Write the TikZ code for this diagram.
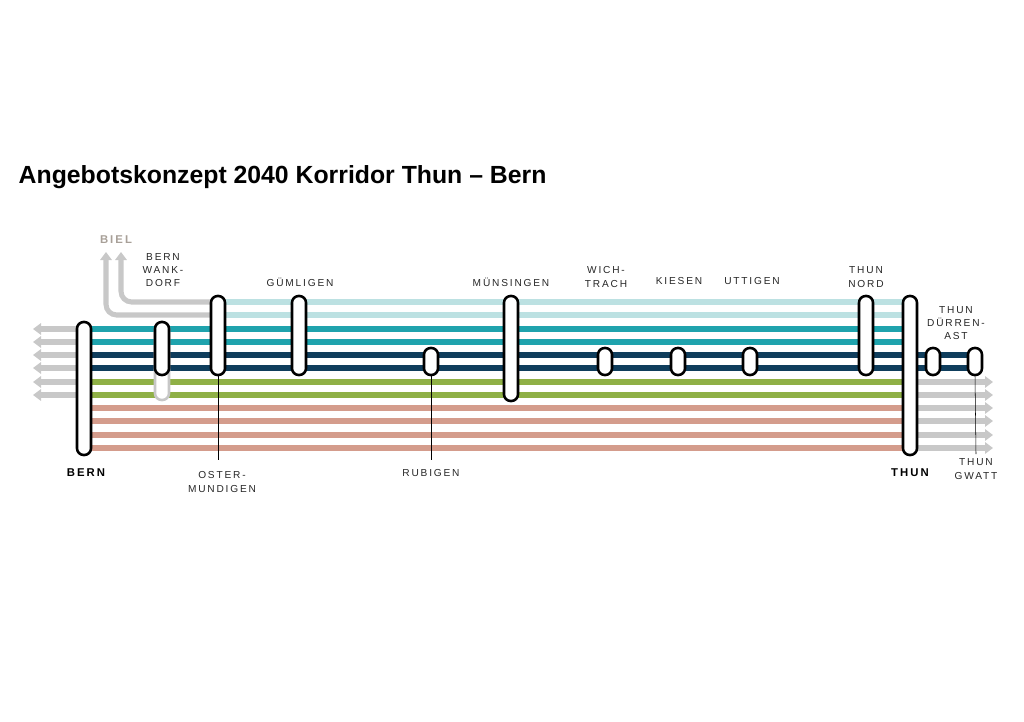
\documentclass[tikz,border=0pt]{standalone}
\usepackage{fontspec}
\setmainfont{Liberation Sans}
\newfontfamily\stfont[LetterSpace=18]{Liberation Sans}
\usetikzlibrary{arrows.meta}
\definecolor{lcyan}{HTML}{BCE1E2}
\definecolor{teal}{HTML}{1FA3AD}
\definecolor{navy}{HTML}{0F3D5C}
\definecolor{lgreen}{HTML}{8FB046}
\definecolor{salmon}{HTML}{D49C8C}
\definecolor{lgrey}{HTML}{C8C8C8}
\definecolor{biel}{HTML}{A8A098}
\tikzset{
  track/.style={line width=4.2pt},
  greyarr/.style={lgrey,line width=3.8pt,-{Triangle[length=6pt,width=8.5pt]}},
  pill/.style={draw,fill=white,line width=1.9pt,rounded corners=5pt,
    minimum width=10.5pt,minimum height=#1*0.75pt,inner sep=0pt},
  lbl/.style={font=\stfont\fontsize{7.6}{10}\selectfont,align=center,text=black!85},
  bold/.style={font=\stfont\bfseries\fontsize{8.5}{10}\selectfont}
}
\begin{document}
\begin{tikzpicture}[x=0.75pt,y=-0.75pt]
\useasboundingbox (0,0) rectangle (1024,721);
\node[anchor=west,font=\bfseries\fontsize{18.6}{20}\selectfont] (title) at (14,177) {Angebotskonzept 2040 Korridor Thun -- Bern};

% ends of the tracks
\coordinate (bielA) at (121,252);
\coordinate (bielB) at (106,252);
% grey continuation
\draw[greyarr,rounded corners=8pt] (218,302) -- (121,302) -- (bielA);
\draw[greyarr,rounded corners=8pt] (218,315) -- (106,315) -- (bielB);
\foreach \y in {329,342,355,368,382,395}
  \draw[greyarr] (84,\y) -- (33,\y);
\foreach \y in {382,395,408,421,435,448}
  \draw[greyarr] (910,\y) -- (993,\y);

% coloured tracks
\foreach \y in {302,315} \draw[track,lcyan] (218,\y) -- (910,\y);
\foreach \y in {329,342} \draw[track,teal] (84,\y) -- (910,\y);
\foreach \y in {355,368} \draw[track,navy] (84,\y) -- (975,\y);
\foreach \y in {382,395} \draw[track,lgreen] (84,\y) -- (910,\y);
\foreach \y in {408,421,435,448} \draw[track,salmon] (84,\y) -- (910,\y);

% stations
\node[pill=78,draw=black!22] (wankx) at (162,361) {};
\node[pill=133] (bern) at (84,388.5) {};
\node[pill=53] (wank) at (162,348.5) {};
\node[pill=79] (ost) at (218,335.5) {};
\node[pill=79] (guem) at (299,335.5) {};
\node[pill=27] (rub) at (431,361.5) {};
\node[pill=105] (muen) at (511,348.5) {};
\node[pill=27] (wich) at (605,361.5) {};
\node[pill=27] (kies) at (678,361.5) {};
\node[pill=27] (utt) at (750,361.5) {};
\node[pill=79] (tnord) at (866,335.5) {};
\node[pill=159] (thun) at (910,375.5) {};
\node[pill=27] (tdur) at (933,361.5) {};
\node[pill=27] (tgw) at (975,361.5) {};

% labels
\node[font=\stfont\bfseries\fontsize{8.5}{10}\selectfont,text=biel] (lbiel) at (116,240) {BIEL};
\node[lbl] (lwank) at (163,270) {BERN\\WANK-\\DORF};
\node[lbl] (lguem) at (300,282) {GÜMLIGEN};
\node[lbl] (lmuen) at (511,282) {MÜNSINGEN};
\node[lbl] (lwich) at (606,277) {WICH-\\TRACH};
\node[lbl] (lkies) at (679,281) {KIESEN};
\node[lbl] (lutt) at (752,281) {UTTIGEN};
\node[lbl] (ltnord) at (866,277) {THUN\\NORD};
\node[lbl] (ltdur) at (956,323) {THUN\\DÜRREN-\\AST};
\node[bold] (lbern) at (86,473) {BERN};
\node[bold] (lthun) at (910,473) {THUN};
\node[lbl] (lost) at (222,482) {OSTER-\\MUNDIGEN};
\node[lbl] (lrub) at (431,473) {RUBIGEN};
\node[lbl] (ltgw) at (976,469) {THUN\\GWATT};

% pointers
\draw[thin] (ost.south) -- (218,460);
\draw[thin] (rub.south) -- (431,460);
\draw[thin] (tgw.south) -- (ltgw.north);
\end{tikzpicture}
\end{document}
